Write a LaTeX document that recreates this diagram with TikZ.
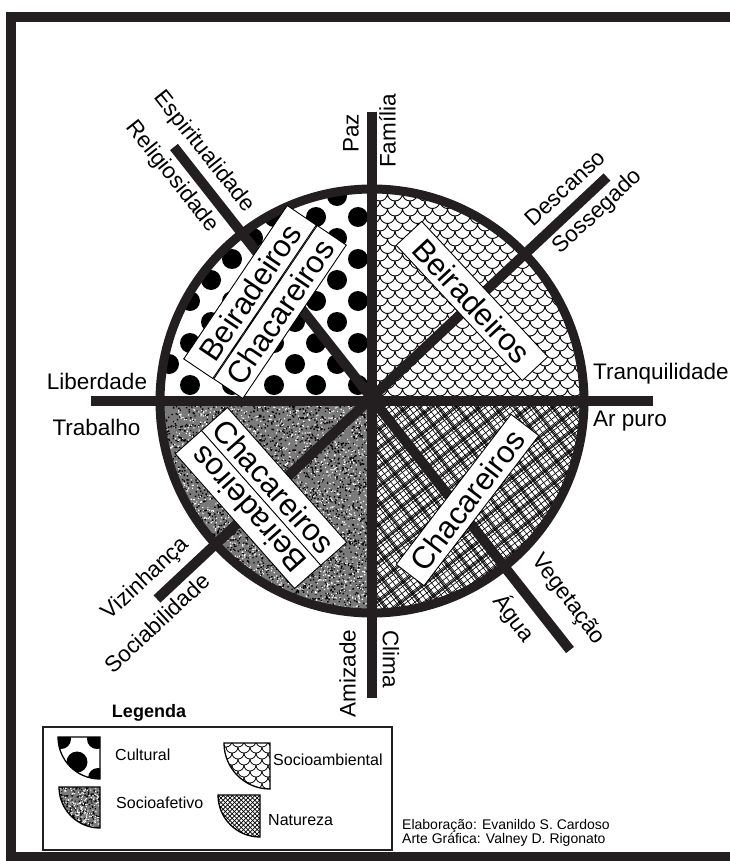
\documentclass[tikz,border=0pt]{standalone}
\usepackage{fontspec}
\setmainfont{Liberation Sans}
\usetikzlibrary{calc}
\definecolor{ink}{RGB}{35,31,32}
\begin{document}
\begin{tikzpicture}[x=1pt,y=1pt,
  lbl/.style={inner sep=0pt, font=\fontsize{22.5}{27}\selectfont},
  boxlbl/.style={draw=black, line width=0.9pt, fill=white, inner xsep=4pt, inner ysep=0pt, minimum height=35pt, font=\fontsize{31}{36}\selectfont},
  axisline/.style={draw=ink, line width=10pt},
  ringline/.style={draw=ink, line width=9pt},
  legtext/.style={inner sep=0pt, anchor=west, font=\fontsize{16}{19}\selectfont},
  iconline/.style={draw=black, line width=1.3pt},
  hatch/.style={line width=0.65pt},
  scale line/.style={line width=0.9pt},
  nwq/.style={insert path={(372,-401) -- (160,-401) arc[start angle=180,end angle=90,radius=212] -- cycle}},
  neq/.style={insert path={(372,-401) -- (372,-189) arc[start angle=90,end angle=0,radius=212] -- cycle}},
  seq/.style={insert path={(372,-401) -- (584,-401) arc[start angle=0,end angle=-90,radius=212] -- cycle}},
  swq/.style={insert path={(372,-401) -- (372,-613) arc[start angle=270,end angle=180,radius=212] -- cycle}},
]
\useasboundingbox (0,0) rectangle (729,-861);
\fill[white] (0,0) rectangle (729,-861);
\pgfmathsetseed{4711}

% frame
\draw[draw=ink, line width=10pt] (11,-17.5) rectangle (745,-856.5);

\coordinate (O) at (372,-401);

% ---- NW: Cultural (dots)
\begin{scope}
\clip[nwq];
\fill[black] \foreach \j in {-3,...,10}{ \foreach \i in {-7,...,1}{ ({358+42*\i+21*mod(\j,2)},{-343+21*\j}) circle[radius=10] } };
\end{scope}

% ---- NE: Socioambiental (scales)
\begin{scope}
\clip[neq];
\draw[scale line] \foreach \j in {0,...,30}{ \foreach \i in {0,...,15}{ ({365+15*\i+7.5*mod(\j,2)},{-186-7.5*\j}) arc[start angle=180,end angle=360,radius=7.5] } };
\end{scope}

% ---- SW: Socioafetivo (noise)
\begin{scope}
\clip[swq];
\fill[black!52] (150,-390) rectangle (380,-620);
\fill[black] \foreach \i in {1,...,3400}{ ({266+108*rand},{-507+108*rand}) rectangle ++(1.4,1.4) };
\fill[white] \foreach \i in {1,...,2600}{ ({266+108*rand},{-507+108*rand}) rectangle ++(1.2,1.2) };
\end{scope}

% ---- SE: Natureza (crosshatch, plaid)
\begin{scope}
\clip[seq];
\begin{scope}[rotate around={38:(O)}]
\draw[hatch] \foreach \k in {-70,...,70}{ (52,{-401+5*\k}) -- ++(640,0) };
\draw[hatch] \foreach \k in {-25,...,25}{ (52,{-398.5+15*\k}) -- ++(640,0) (52,{-397.3+15*\k}) -- ++(640,0) };
\end{scope}
\begin{scope}[rotate around={-52:(O)}]
\draw[hatch] \foreach \k in {-70,...,70}{ (52,{-401+5*\k}) -- ++(640,0) };
\draw[hatch] \foreach \k in {-25,...,25}{ (52,{-398.5+15*\k}) -- ++(640,0) (52,{-397.3+15*\k}) -- ++(640,0) };
\end{scope}
\end{scope}

% ---- axes
\coordinate (vT) at (372,-112);
\coordinate (vB) at (372,-698);
\coordinate (hL) at (91,-401);
\coordinate (hR) at (653,-401);
\coordinate (nwE) at (174,-147);
\coordinate (seE) at (570,-650);
\coordinate (neE) at (607,-177);
\coordinate (swE) at (157,-599);
\draw[axisline] (vT) -- (vB);
\draw[axisline] (hL) -- (hR);
\draw[axisline] (nwE) -- (seE);
\draw[axisline] (swE) -- (neE);
\draw[ringline] (O) circle[radius=212];

% ---- boxes in quadrants
\node[boxlbl, minimum width=185pt, rotate=56] (nwB) at (250,-292) {Beiradeiros};
\node[boxlbl, minimum width=185pt, rotate=56] (nwC) at (280,-312) {Chacareiros};
\node[boxlbl, minimum width=185pt, rotate=-47] (neB) at (472,-301) {Beiradeiros};
\node[boxlbl, minimum width=180pt, rotate=-48.5] (swC) at (274,-486.5) {Chacareiros};
\node[boxlbl, minimum width=180pt, rotate=131.5] (swB) at (248,-509.5) {Beiradeiros};
\node[boxlbl, minimum width=189pt, rotate=52.6] (seC) at (467.5,-500) {Chacareiros};

% ---- outer labels
\node[lbl, rotate=90] (paz) at (351,-133.5) {Paz};
\node[lbl, rotate=90] (fam) at (387.5,-131) {Família};
\node[lbl, rotate=90] (ami) at (347.5,-673.5) {Amizade};
\node[lbl, rotate=-90] (cli) at (391,-659) {Clima};
\node[lbl] (lib) at (97,-381) {Liberdade};
\node[lbl] (tra) at (96.5,-427) {Trabalho};
\node[lbl, anchor=west] (tranq) at (593,-374) {Tranquilidade};
\node[lbl, anchor=west] (ar) at (593,-421) {Ar puro};
\node[lbl, rotate=-51.5] (esp) at (204,-152) {Espiritualidade};
\node[lbl, rotate=-51.5] (rel) at (172,-177) {Religiosidade};
\node[lbl, rotate=43] (des) at (565,-188) {Descanso};
\node[lbl, rotate=43] (sos) at (598,-212) {Sossegado};
\node[lbl, rotate=43] (viz) at (146,-579) {Vizinhança};
\node[lbl, rotate=43] (soc) at (157,-623) {Sociabilidade};
\node[lbl, rotate=-53] (veg) at (568,-600) {Vegetação};
\node[lbl, rotate=-53] (agu) at (514,-618) {Água};

% ---- legend
\node[inner sep=0pt, font=\bfseries\fontsize{18}{21}\selectfont] (leg) at (149,-712.5) {Legenda};
\node[draw=ink, line width=1.6pt, minimum width=349pt, minimum height=123pt, inner sep=0pt] (legbox) at (217.5,-788.5) {};

% Cultural icon
\begin{scope}
\clip (100,-737) -- (58,-737) arc[start angle=180,end angle=270,radius=42] -- cycle;
\fill[black] (61,-739) circle[radius=10] (97,-739) circle[radius=10] (77,-762) circle[radius=10.5] (98,-778) circle[radius=10];
\end{scope}
\draw[iconline] (100,-737) -- (58,-737) arc[start angle=180,end angle=270,radius=42] -- cycle;
\node[legtext] (lcul) at (115,-755) {Cultural};

% Socioambiental icon
\begin{scope}
\clip (270,-743) -- (224,-743) arc[start angle=180,end angle=270,radius=46] -- cycle;
\draw[line width=0.8pt] \foreach \j in {0,...,8}{ \foreach \i in {0,...,4}{ ({220+12*\i+6*mod(\j,2)},{-741-6*\j}) arc[start angle=180,end angle=360,radius=6] } };
\end{scope}
\draw[iconline] (270,-743) -- (224,-743) arc[start angle=180,end angle=270,radius=46] -- cycle;
\node[legtext] (lsam) at (273,-760) {Socioambiental};

% Socioafetivo icon
\begin{scope}
\clip (100,-787) -- (59,-787) arc[start angle=180,end angle=270,radius=41] -- cycle;
\fill[black!52] (55,-784) rectangle (103,-832);
\fill[black] \foreach \i in {1,...,320}{ ({79+22*rand},{-808+22*rand}) rectangle ++(1.2,1.2) };
\fill[white] \foreach \i in {1,...,260}{ ({79+22*rand},{-808+22*rand}) rectangle ++(1.1,1.1) };
\end{scope}
\draw[iconline] (100,-787) -- (59,-787) arc[start angle=180,end angle=270,radius=41] -- cycle;
\node[legtext] (lsaf) at (116,-803) {Socioafetivo};

% Natureza icon
\begin{scope}
\clip (260,-795) -- (218,-795) arc[start angle=180,end angle=270,radius=42] -- cycle;
\begin{scope}[rotate around={45:(239,-816)}]
\draw[line width=0.7pt] \foreach \k in {-14,...,14}{ (200,{-816+3.2*\k}) -- ++(80,0) };
\end{scope}
\begin{scope}[rotate around={-45:(239,-816)}]
\draw[line width=0.7pt] \foreach \k in {-14,...,14}{ (200,{-816+3.2*\k}) -- ++(80,0) };
\end{scope}
\end{scope}
\draw[iconline] (260,-795) -- (218,-795) arc[start angle=180,end angle=270,radius=42] -- cycle;
\node[legtext] (lnat) at (268,-820) {Natureza};

% credits
\node[inner sep=0pt, anchor=north west, align=left, font=\fontsize{14}{13}\selectfont] (cred) at (402,-819) {Elaboração: Evanildo S. Cardoso\\Arte Gráfica: Valney D. Rigonato};
\end{tikzpicture}
\end{document}
